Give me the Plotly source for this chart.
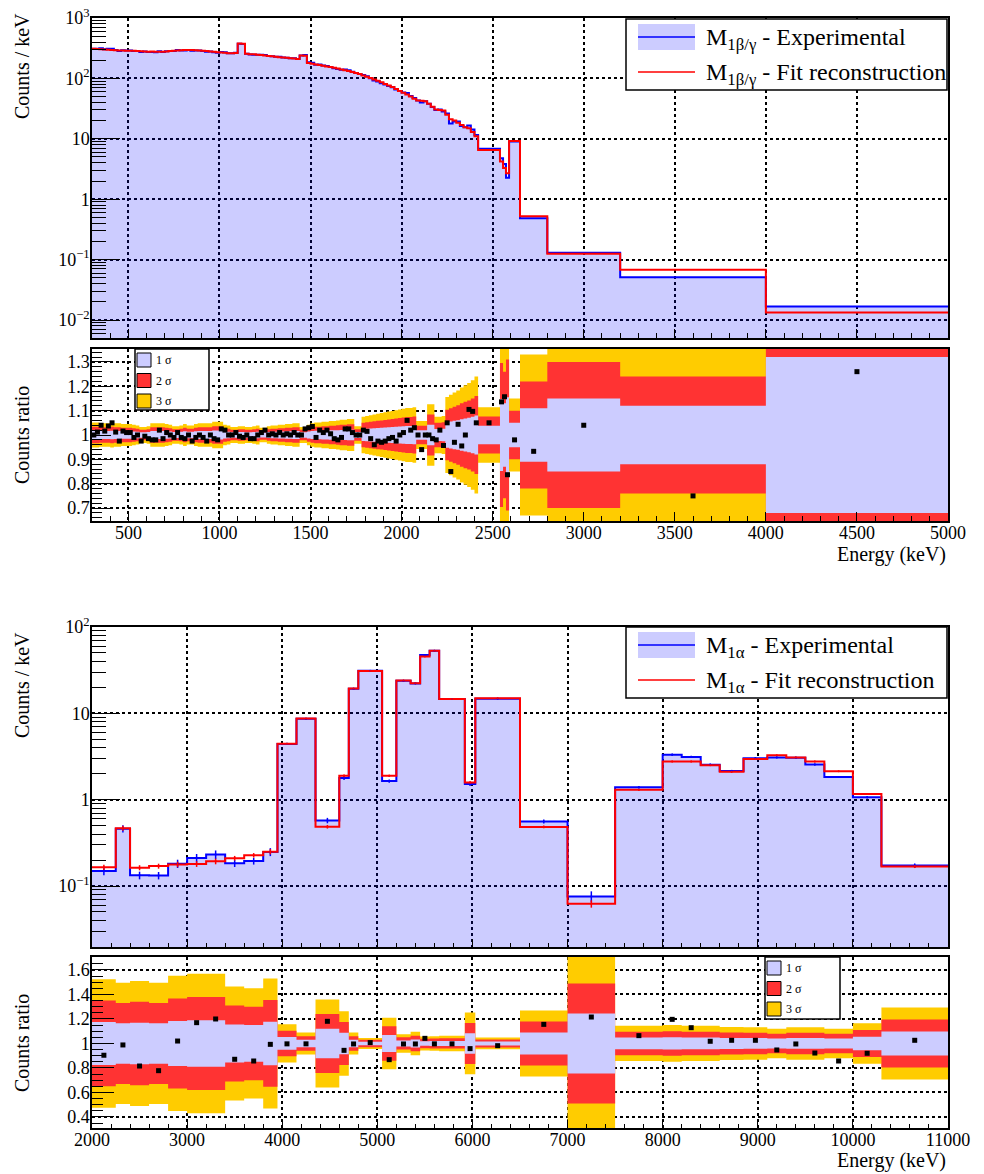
import plotly.graph_objects as go

W, H = 984, 1174
FONT = "Liberation Serif, Times New Roman, serif"

def px(x):
    return x / W

def py(y):
    return 1 - y / H

# ---------------- top: M1 beta/gamma ----------------
top_edges = list(range(300, 2420, 20)) + [2420, 2540, 2557, 2573, 2590, 2650, 2800, 3200, 4000, 5000]

top_fit = [
    310, 306, 303, 300, 298, 296, 293, 291, 289, 288,
    287, 288, 284, 281, 279, 277, 278, 276, 275, 277,
    280, 284, 288, 291, 293, 295, 296, 294, 292, 289,
    286, 283, 280, 276, 272, 268, 265, 262, 262, 264,
    378, 376, 255, 252, 250, 246, 243, 240, 236, 232,
    228, 225, 222, 219, 216, 213, 210, 240, 238, 180,
    175, 170, 166, 162, 158, 154, 150, 146, 141, 137,
    133, 128, 123, 118, 112, 107, 102, 96, 91, 86,
    81, 76, 72, 67, 62, 58, 54, 50, 46, 43,
    42.5, 42, 38, 34, 30.5, 30, 29.5, 25, 21, 20,
    18.5, 17, 15.5, 15, 13, 11,
    6.5, 4.2, 3.3, 2.7, 9.2, 0.52, 0.125, 0.068, 0.0133,
]

top_ratio = [
    1.00, 1.012, 1.04, 1.016, 1.037, 1.05, 1.012, 0.975, 1.016, 1.01,
    1.01, 0.99, 1.0, 0.975, 0.995, 0.985, 0.98, 0.98, 1.02, 0.985,
    1.01, 1.0, 0.99, 1.01, 0.99, 0.985, 1.0, 0.975, 0.99, 1.0,
    0.99, 0.975, 1.0, 0.985, 0.98, 1.025, 1.02, 1.0, 1.0, 1.01,
    0.995, 0.99, 1.0, 0.985, 0.985, 1.0, 1.01, 1.02, 1.0, 1.005,
    1.0, 1.01, 1.0, 1.005, 1.0, 1.01, 1.0, 1.0, 1.025, 1.03,
    1.035, 0.99, 1.02, 1.01, 1.02, 1.005, 0.985, 0.98, 0.99, 1.025,
    1.025, 1.01, 1.0, 1.0, 1.02, 1.015, 0.985, 0.96, 0.975, 0.97,
    0.975, 0.985, 0.99, 0.975, 1.0, 1.01, 1.06, 1.02, 1.03, 1.0,
    0.94, 1.0, 1.0, 0.985, 0.98, 1.02, 0.957, 1.05, 0.85, 0.97,
    1.044, 0.955, 1.0, 1.105, 1.097, 1.05,
    1.05, 1.136, 1.157, 0.837, 0.98, 0.933, 1.04, 0.75, 1.26,
]

top_sigma = [
    0.017, 0.017, 0.016, 0.016, 0.016, 0.017, 0.016, 0.016, 0.015, 0.015,
    0.015, 0.014, 0.013, 0.011, 0.011, 0.012, 0.016, 0.016, 0.016, 0.016,
    0.015, 0.014, 0.012, 0.012, 0.013, 0.015, 0.013, 0.013, 0.015, 0.016,
    0.016, 0.016, 0.016, 0.018, 0.018, 0.018, 0.014, 0.013, 0.011, 0.011,
    0.012, 0.012, 0.011, 0.011, 0.012, 0.013, 0.010, 0.010, 0.012, 0.013,
    0.013, 0.014, 0.014, 0.015, 0.015, 0.016, 0.016, 0.011, 0.011, 0.014,
    0.016, 0.017, 0.017, 0.018, 0.018, 0.019, 0.019, 0.020, 0.021, 0.021,
    0.022, 0.022, 0.012, 0.012, 0.025, 0.026, 0.027, 0.028, 0.029, 0.030,
    0.031, 0.032, 0.033, 0.034, 0.035, 0.036, 0.037, 0.037, 0.038, 0.019,
    0.019, 0.019, 0.042, 0.042, 0.025, 0.025, 0.026, 0.052, 0.055, 0.058,
    0.061, 0.065, 0.068, 0.071, 0.075, 0.080,
    0.038, 0.148, 0.13, 0.155, 0.05, 0.11, 0.15, 0.12, 0.32,
]

# ---------------- bottom: M1 alpha ----------------
bot_edges = [2000, 2250, 2400, 2600, 2800, 3000, 3200, 3400, 3600, 3800, 3950,
             4150, 4350, 4600, 4700, 4800, 5050, 5200, 5350, 5450, 5550, 5650,
             5920, 6030, 6500, 7000, 7500, 8000, 8200, 8400, 8600, 8850, 9100,
             9300, 9500, 9700, 10000, 10300, 11000]

bot_fit = [0.165, 0.467, 0.163, 0.17, 0.178, 0.18, 0.193, 0.21, 0.227, 0.25,
           4.44, 8.7, 0.486, 1.89, 19.4, 31, 1.89, 24, 22.3, 45.4, 53.2,
           14.7, 1.58, 15, 0.483, 0.0622, 1.306, 2.77, 2.77, 2.5, 2.1,
           2.95, 3.26, 3.08, 2.77, 2.13, 1.16, 0.168]

bot_ratio = [0.904, 0.988, 0.816, 0.778, 1.02, 1.17, 1.2, 0.871, 0.857, 0.993,
             0.997, 0.997, 1.181, 0.944, 0.996, 1.007, 0.868, 0.996, 0.996,
             1.042, 0.997, 0.997, 0.958, 0.982, 1.156, 1.216, 1.064, 1.197,
             1.129, 1.018, 1.026, 1.026, 0.947, 0.996, 0.922, 0.857, 0.92, 1.026]

bot_sigma = [0.175, 0.165, 0.17, 0.165, 0.184, 0.19, 0.19, 0.155, 0.15, 0.177,
             0.052, 0.03, 0.12, 0.088, 0.03, 0.015, 0.07, 0.025, 0.032, 0.019,
             0.02, 0.021, 0.084, 0.016, 0.09, 0.245, 0.048, 0.05, 0.048, 0.048,
             0.045, 0.044, 0.04, 0.044, 0.044, 0.04, 0.055, 0.098]

BLUE_FILL = "rgba(0,0,255,0.2)"
BAND = {1: "#ccccff", 2: "#ff3333", 3: "#ffcc00"}

fig = go.Figure()


def step_xy(edges, vals):
    return list(edges), list(vals) + [vals[-1]]


def add_panel(edges, fit, ratio, sigma, xa, ya, xr, yr, errbars):
    exp = [f * r for f, r in zip(fit, ratio)]
    centers = [(a + b) / 2 for a, b in zip(edges[:-1], edges[1:])]
    x, y = step_xy(edges, exp)
    fig.add_trace(go.Scatter(x=x, y=y, line_shape="hv", mode="lines", fill="tozeroy",
                             fillcolor=BLUE_FILL, line=dict(color="#0000ff", width=2),
                             xaxis=xa, yaxis=ya, showlegend=False, hoverinfo="skip"))
    x, y = step_xy(edges, fit)
    fig.add_trace(go.Scatter(x=x, y=y, line_shape="hv", mode="lines",
                             line=dict(color="#ff0000", width=2),
                             xaxis=xa, yaxis=ya, showlegend=False, hoverinfo="skip"))
    if errbars:
        fig.add_trace(go.Scatter(x=centers, y=exp, mode="markers",
                                 marker=dict(size=2, color="#0000ff"),
                                 error_y=dict(type="data", array=[e * s * 0.6 for e, s in zip(exp, sigma)],
                                              color="#0000ff", thickness=1.5, width=0),
                                 xaxis=xa, yaxis=ya, showlegend=False, hoverinfo="skip"))
        fig.add_trace(go.Scatter(x=centers, y=fit, mode="markers",
                                 marker=dict(size=2, color="#ff0000"),
                                 error_y=dict(type="data", array=[f * s * 0.4 for f, s in zip(fit, sigma)],
                                              color="#ff0000", thickness=1.5, width=0),
                                 xaxis=xa, yaxis=ya, showlegend=False, hoverinfo="skip"))
    # ratio bands: 3, 2, 1 sigma
    for k in (3, 2, 1):
        lo = [1 - k * s for s in sigma]
        hi = [1 + k * s for s in sigma]
        x, y = step_xy(edges, lo)
        fig.add_trace(go.Scatter(x=x, y=y, line_shape="hv", mode="lines", line=dict(width=0),
                                 xaxis=xr, yaxis=yr, showlegend=False, hoverinfo="skip"))
        x, y = step_xy(edges, hi)
        fig.add_trace(go.Scatter(x=x, y=y, line_shape="hv", mode="lines", line=dict(width=0),
                                 fill="tonexty", fillcolor=BAND[k],
                                 xaxis=xr, yaxis=yr, showlegend=False, hoverinfo="skip"))
    fig.add_trace(go.Scatter(x=centers, y=ratio, mode="markers",
                             marker=dict(symbol="square", size=5, color="black"),
                             xaxis=xr, yaxis=yr, showlegend=False, hoverinfo="skip"))


add_panel(top_edges, top_fit, top_ratio, top_sigma, "x", "y", "x2", "y2", False)
add_panel(bot_edges, bot_fit, bot_ratio, bot_sigma, "x3", "y3", "x4", "y4", True)

tickfont = dict(family=FONT, size=18, color="black")
common = dict(showline=True, linecolor="black", linewidth=1.5, mirror=True,
              ticks="inside", tickcolor="black", tickwidth=1,
              showgrid=True, gridcolor="black", griddash="dot", gridwidth=1.5,
              zeroline=False, tickfont=tickfont, automargin=False)

x_dom = [px(92), px(948)]


def log_axis(lo_exp, hi_exp, rng, dom, anchor):
    vals = [10.0 ** e for e in range(lo_exp, hi_exp + 1)]
    txt = []
    for e in range(lo_exp, hi_exp + 1):
        if e == 0:
            txt.append("1")
        elif e == 1:
            txt.append("10")
        else:
            txt.append("10<sup>%s</sup>" % (str(e).replace("-", "\u2212")))
    minor = [m * 10.0 ** e for e in range(lo_exp - 1, hi_exp) for m in range(2, 10)]
    return dict(common, type="log", range=rng, domain=dom, anchor=anchor,
                tickmode="array", tickvals=vals, ticktext=txt, ticklen=28,
                ticklabelstandoff=-3,
                minor=dict(tickmode="array", tickvals=minor, ticks="inside", ticklen=14,
                           tickcolor="black", showgrid=False))


fig.update_layout(
    width=W, height=H,
    margin=dict(l=0, r=0, t=0, b=0, pad=0),
    paper_bgcolor="white", plot_bgcolor="white",
    showlegend=False,
    xaxis=dict(common, domain=x_dom, anchor="y", range=[300, 5000], tick0=0, dtick=500,
               ticklen=9, showticklabels=False,
               minor=dict(ticks="inside", dtick=100, ticklen=5, tickcolor="black", showgrid=False)),
    yaxis=log_axis(-2, 3, [-2.298, 3], [py(338), py(18)], "x"),
    xaxis2=dict(common, domain=x_dom, anchor="y2", range=[300, 5000], tick0=0, dtick=500,
                ticklen=9, tickformat="d", ticklabelstandoff=-5,
                minor=dict(ticks="inside", dtick=100, ticklen=5, tickcolor="black", showgrid=False)),
    yaxis2=dict(common, domain=[py(521), py(349)], anchor="x2", range=[0.647, 1.353],
                tick0=0, dtick=0.1, ticklen=19, ticklabelstandoff=-3,
                minor=dict(ticks="inside", dtick=0.02, ticklen=10, tickcolor="black", showgrid=False)),
    xaxis3=dict(common, domain=x_dom, anchor="y3", range=[2000, 11000], tick0=0, dtick=1000,
                ticklen=8, showticklabels=False,
                minor=dict(ticks="inside", dtick=200, ticklen=4, tickcolor="black", showgrid=False)),
    yaxis3=log_axis(-1, 2, [-1.7066, 2], [py(947), py(627)], "x3"),
    xaxis4=dict(common, domain=x_dom, anchor="y4", range=[2000, 11000], tick0=0, dtick=1000,
                ticklen=8, tickformat="d", ticklabelstandoff=-5,
                minor=dict(ticks="inside", dtick=200, ticklen=4, tickcolor="black", showgrid=False)),
    yaxis4=dict(common, domain=[py(1128), py(957)], anchor="x4", range=[0.31, 1.706],
                tick0=0, dtick=0.2, ticklen=22, ticklabelstandoff=-3,
                minor=dict(ticks="inside", dtick=0.05, ticklen=11, tickcolor="black", showgrid=False)),
)

shapes = []
annotations = []
title_font = dict(family=FONT, size=20, color="black")

for text, y in [("Counts / keV", 66), ("Counts ratio", 435), ("Counts / keV", 685), ("Counts ratio", 1043)]:
    annotations.append(dict(text=text, x=px(22), y=py(y), xref="paper", yref="paper",
                            textangle=-90, showarrow=False, font=title_font,
                            xanchor="center", yanchor="middle"))
for y in (554, 1160):
    annotations.append(dict(text="Energy (keV)", x=px(948), y=py(y), xref="paper", yref="paper",
                            showarrow=False, font=title_font, xanchor="right", yanchor="middle"))


def main_legend(top, label):
    shapes.append(dict(type="rect", xref="paper", yref="paper", x0=px(626), x1=px(947),
                       y0=py(top + 71), y1=py(top), fillcolor="white",
                       line=dict(color="black", width=1.5)))
    shapes.append(dict(type="rect", xref="paper", yref="paper", x0=px(638), x1=px(695),
                       y0=py(top + 31), y1=py(top + 5), fillcolor=BLUE_FILL, line=dict(width=0)))
    shapes.append(dict(type="line", xref="paper", yref="paper", x0=px(638), x1=px(695),
                       y0=py(top + 18), y1=py(top + 18), line=dict(color="#0000ff", width=1.5)))
    shapes.append(dict(type="line", xref="paper", yref="paper", x0=px(638), x1=px(695),
                       y0=py(top + 53), y1=py(top + 53), line=dict(color="#ff0000", width=1.5)))
    f = dict(family=FONT, size=24, color="black")
    annotations.append(dict(text="M<sub>%s</sub> - Experimental" % label, x=px(704), y=py(top + 20),
                            xref="paper", yref="paper", showarrow=False, font=f,
                            xanchor="left", yanchor="middle"))
    annotations.append(dict(text="M<sub>%s</sub> - Fit reconstruction" % label, x=px(704), y=py(top + 55),
                            xref="paper", yref="paper", showarrow=False, font=f,
                            xanchor="left", yanchor="middle"))


def band_legend(x0, y0, w, h):
    shapes.append(dict(type="rect", xref="paper", yref="paper", x0=px(x0), x1=px(x0 + w),
                       y0=py(y0 + h), y1=py(y0), fillcolor="white",
                       line=dict(color="black", width=1.5)))
    for i, k in enumerate((1, 2, 3)):
        cy = y0 + 11 + i * 20.5
        shapes.append(dict(type="rect", xref="paper", yref="paper", x0=px(x0 + 2), x1=px(x0 + 16),
                           y0=py(cy + 7), y1=py(cy - 7), fillcolor=BAND[k],
                           line=dict(color="black", width=1)))
        annotations.append(dict(text="%d \u03c3" % k, x=px(x0 + 19), y=py(cy), xref="paper", yref="paper",
                                showarrow=False, font=dict(family=FONT, size=12, color="black"),
                                xanchor="left", yanchor="middle"))


main_legend(19, "1\u03b2/\u03b3")
main_legend(627, "1\u03b1")
band_legend(135, 349, 74, 61)
band_legend(765, 957, 75, 62)

fig.update_layout(shapes=shapes, annotations=annotations)
fig.write_html("out.html", config={"displayModeBar": False},
               post_script="document.body.style.margin='0';document.body.style.overflow='hidden';")
